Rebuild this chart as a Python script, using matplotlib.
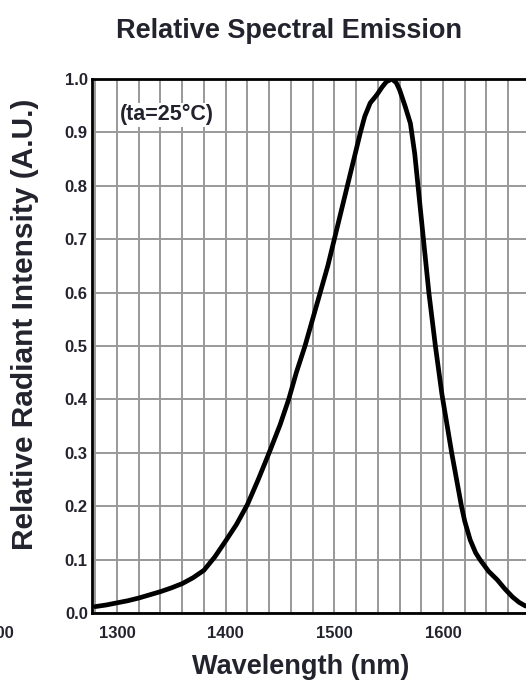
import matplotlib
matplotlib.use("Agg")
import matplotlib.pyplot as plt
import numpy as np

plt.rcParams['font.family'] = ['Liberation Sans', 'DejaVu Sans']

wavelength = [1280, 1290, 1300, 1310, 1320, 1330, 1340, 1350, 1360, 1370, 1380, 1390,
              1400, 1410, 1420, 1430, 1440, 1450, 1458, 1465, 1473, 1480, 1487, 1494,
              1500, 1506, 1512, 1518, 1524, 1528, 1533, 1539, 1544, 1548, 1553, 1557,
              1560, 1565, 1570, 1574, 1577, 1582, 1587, 1593, 1599, 1608, 1617, 1620,
              1625, 1630, 1634, 1642, 1650, 1657, 1664, 1670, 1676]
intensity = [0.012, 0.015, 0.019, 0.023, 0.028, 0.034, 0.040, 0.047, 0.055, 0.066, 0.080, 0.105,
             0.135, 0.166, 0.203, 0.250, 0.300, 0.352, 0.400, 0.450, 0.500, 0.550, 0.600, 0.650,
             0.700, 0.750, 0.800, 0.850, 0.900, 0.930, 0.955, 0.970, 0.985, 0.995, 1.000, 0.993,
             0.980, 0.950, 0.917, 0.860, 0.800, 0.700, 0.600, 0.500, 0.410, 0.300, 0.200, 0.172,
             0.137, 0.113, 0.100, 0.078, 0.062, 0.045, 0.030, 0.020, 0.013]

x_ticks = [1300, 1400, 1500, 1600]
y_ticks = [0.0, 0.1, 0.2, 0.3, 0.4, 0.5, 0.6, 0.7, 0.8, 0.9, 1.0]
x_grid = list(range(1280, 1700, 20))

title = "Relative Spectral Emission"
xlabel = "Wavelength (nm)"
ylabel = "Relative Radiant Intensity (A.U.)"
note = "(ta=25°C)"

W, H = 526, 686
fig = plt.figure(figsize=(W/100, H/100), dpi=100)
x0, x1 = 1277, 1700
left_px, top_px, bot_px = 92, 79, 613
px_per_nm = 326/300
width_px = (x1 - x0) * px_per_nm
ax = fig.add_axes([left_px/W, (H-bot_px)/H, width_px/W, (bot_px-top_px)/H])
ax.set_xlim(x0, x1)
ax.set_ylim(0, 1.0)

txtcol = '#23232e'
gridcol = '#999999'
for xv in x_grid:
    ax.axvline(xv, color=gridcol, lw=1.4, zorder=1)
for yv in y_ticks:
    ax.axhline(yv, color=gridcol, lw=1.4, zorder=1)

ax.plot(wavelength, intensity, color='black', lw=3.4, zorder=3,
        solid_capstyle='round', solid_joinstyle='round')

ax.set_xticks(x_ticks)
ax.set_xticklabels([str(v) for v in x_ticks])
ax.set_yticks(y_ticks)
ax.set_yticklabels([f"{v:.1f}" for v in y_ticks])
ax.tick_params(length=0, labelsize=12, colors=txtcol)
ax.tick_params(axis='x', pad=9)
ax.tick_params(axis='y', pad=3)
for lab in ax.get_xticklabels() + ax.get_yticklabels():
    lab.set_fontweight('bold')

for s in ['left', 'top', 'bottom']:
    ax.spines[s].set_linewidth(2.0)
    ax.spines[s].set_color('black')
ax.spines['right'].set_visible(False)

ax.text(1303, 0.933, note, fontsize=15.5, fontweight='bold', color=txtcol, va='center', ha='left',
        bbox=dict(facecolor='white', edgecolor='none', pad=1.0), zorder=4)

fig.text(289/W, 1 - 31/H, title, fontsize=19.5, fontweight='bold', color=txtcol, ha='center', va='center')
fig.text(301/W, 1 - 667/H, xlabel, fontsize=19.5, fontweight='bold', color=txtcol, ha='center', va='center')
fig.text(25/W, 1 - 324/H, ylabel, fontsize=21.5, fontweight='bold', color=txtcol, ha='center', va='center', rotation=90)
fig.text(14/W, 1 - 634/H, "1200", fontsize=12, fontweight='bold', color=txtcol, ha='right', va='center')

fig.savefig("out.png", dpi=100, facecolor='white')
